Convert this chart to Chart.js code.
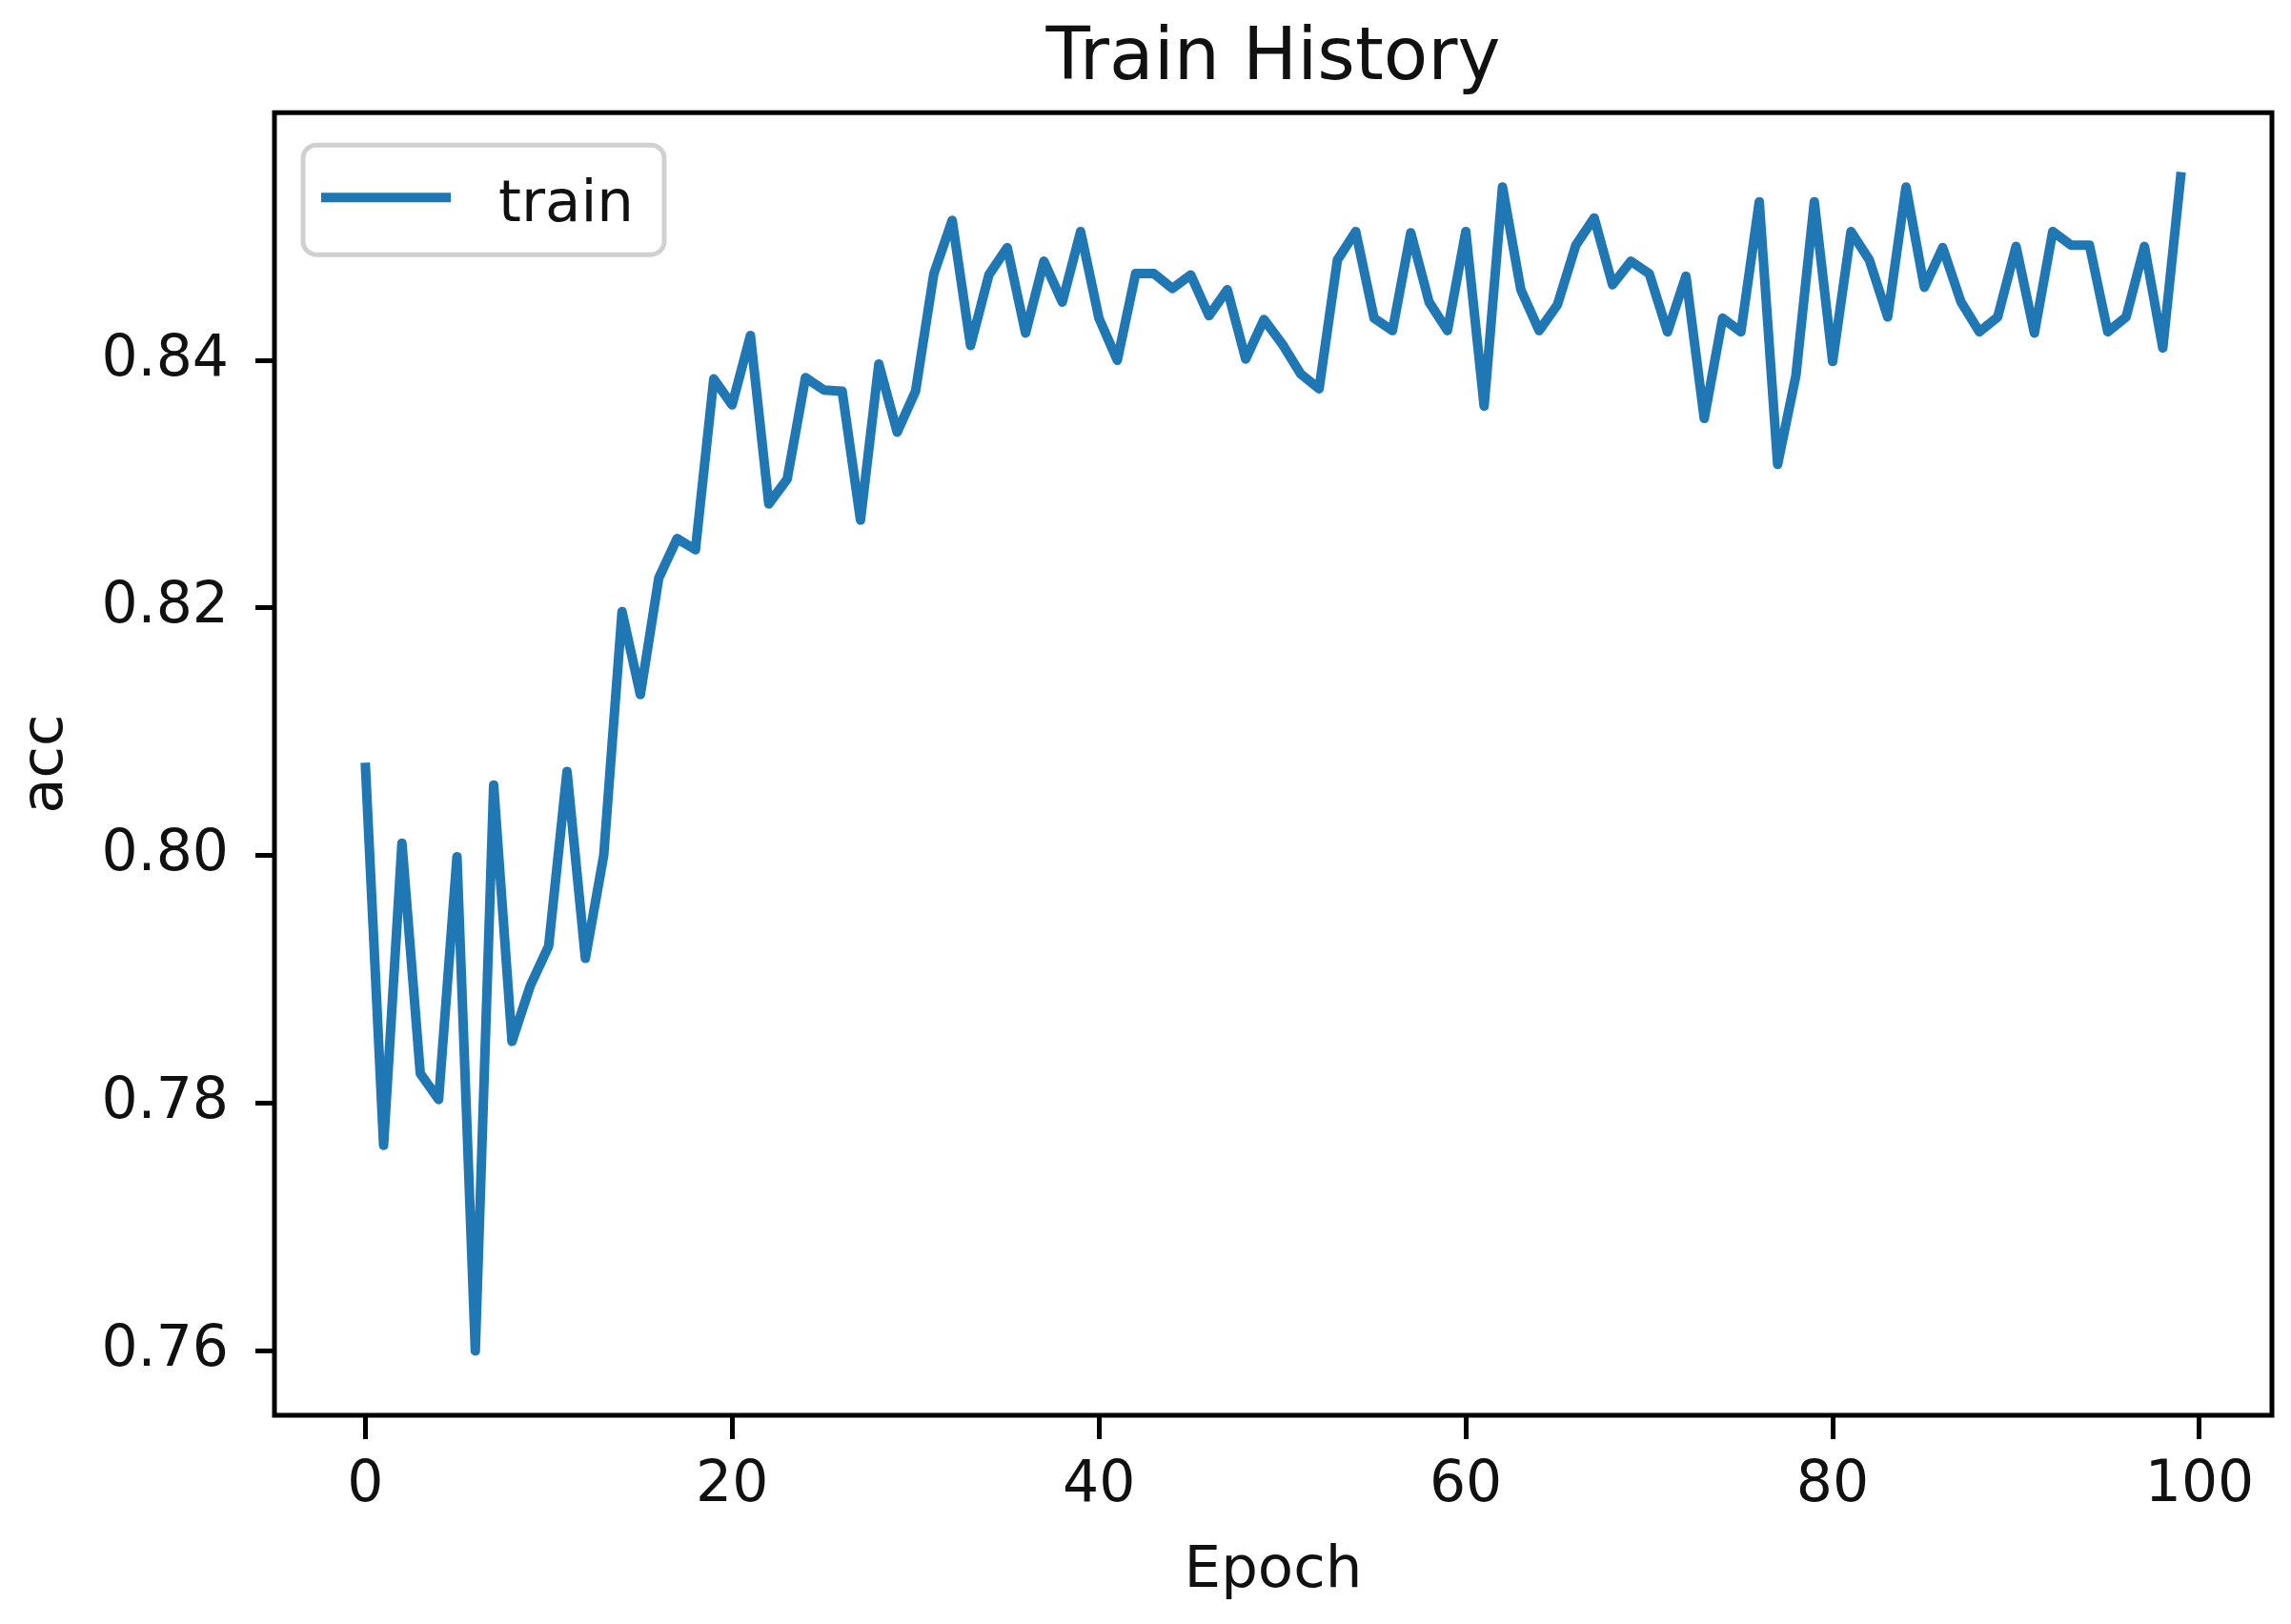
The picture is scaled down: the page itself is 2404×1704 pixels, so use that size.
<!DOCTYPE html>
<html><head><meta charset="utf-8">
<script src="https://cdn.jsdelivr.net/npm/chart.js@4.4.1/dist/chart.umd.min.js"></script>
<style>html,body{margin:0;padding:0;background:#fff;overflow:hidden}canvas{display:block}</style>
</head><body>
<canvas id="c" width="2404" height="1704"></canvas>
<script>
const titleText = 'Train History';
const xLabel = 'Epoch';
const yLabel = 'acc';
const seriesName = 'train';
const epochs = [0,1,2,3,4,5,6,7,8,9,10,11,12,13,14,15,16,17,18,19,20,21,22,23,24,25,26,27,28,29,30,31,32,33,34,35,36,37,38,39,40,41,42,43,44,45,46,47,48,49,50,51,52,53,54,55,56,57,58,59,60,61,62,63,64,65,66,67,68,69,70,71,72,73,74,75,76,77,78,79,80,81,82,83,84,85,86,87,88,89,90,91,92,93,94,95,96,97,98,99];
const acc = [
  0.8075,0.7766,0.8010,0.7824,0.7803,0.7999,0.7600,0.8057,0.7850,0.7895,
  0.7927,0.8068,0.7917,0.8000,0.8197,0.8130,0.8224,0.8256,0.8247,0.8385,
  0.8364,0.8420,0.8284,0.8304,0.8386,0.8376,0.8375,0.8271,0.8397,0.8342,
  0.8375,0.8470,0.8513,0.8412,0.8469,0.8491,0.8422,0.8480,0.8447,0.8504,
  0.8434,0.8400,0.8470,0.8470,0.8458,0.8469,0.8436,0.8457,0.8401,0.8433,
  0.8413,0.8389,0.8377,0.8481,0.8504,0.8434,0.8424,0.8503,0.8447,0.8424,
  0.8504,0.8363,0.8540,0.8457,0.8424,0.8445,0.8493,0.8515,0.8461,0.8480,
  0.8470,0.8423,0.8468,0.8353,0.8434,0.8423,0.8528,0.8316,0.8388,0.8528,
  0.8399,0.8504,0.8481,0.8435,0.8540,0.8459,0.8491,0.8447,0.8423,0.8435,
  0.8492,0.8422,0.8504,0.8493,0.8493,0.8423,0.8435,0.8492,0.8410,0.8552
];
const xTicks = [0,20,40,60,80,100];
const yTicks = [0.76,0.78,0.80,0.82,0.84];

const FAMILY = "'DejaVu Sans', 'Liberation Sans', sans-serif";
const lineColor = '#1f77b4';

const framePlugin = {
  id: 'frame',
  afterDatasetsDraw(chart) {
    const {ctx, chartArea: a} = chart;
    ctx.save();
    ctx.strokeStyle = '#000';
    ctx.lineWidth = 5;
    ctx.strokeRect(a.left, a.top, a.right - a.left, a.bottom - a.top);
    ctx.restore();
  }
};

const legendPlugin = {
  id: 'mplLegend',
  afterDraw(chart) {
    const {ctx, chartArea: a} = chart;
    const ds = chart.data.datasets[0];
    const bx = a.left + 30, by = a.top + 34, bw = 379, bh = 115, r = 14;
    ctx.save();
    ctx.beginPath();
    ctx.moveTo(bx + r, by);
    ctx.arcTo(bx + bw, by, bx + bw, by + bh, r);
    ctx.arcTo(bx + bw, by + bh, bx, by + bh, r);
    ctx.arcTo(bx, by + bh, bx, by, r);
    ctx.arcTo(bx, by, bx + bw, by, r);
    ctx.closePath();
    ctx.fillStyle = 'rgba(255,255,255,0.8)';
    ctx.fill();
    ctx.strokeStyle = '#d0d0d0';
    ctx.lineWidth = 5;
    ctx.stroke();
    ctx.beginPath();
    ctx.moveTo(bx + 19, by + 55);
    ctx.lineTo(bx + 155, by + 55);
    ctx.strokeStyle = ds.borderColor;
    ctx.lineWidth = ds.borderWidth;
    ctx.stroke();
    ctx.fillStyle = '#111';
    ctx.font = '61px ' + FAMILY;
    ctx.textAlign = 'left';
    ctx.textBaseline = 'alphabetic';
    ctx.fillText(ds.label, bx + 205, by + 80);
    ctx.restore();
  }
};

new Chart(document.getElementById('c').getContext('2d'), {
  type: 'line',
  data: {
    datasets: [{
      label: seriesName,
      data: epochs.map((e, i) => ({x: e, y: acc[i]})),
      borderColor: lineColor,
      backgroundColor: lineColor,
      borderWidth: 10,
      pointRadius: 0,
      tension: 0,
      fill: false,
      borderJoinStyle: 'round'
    }]
  },
  options: {
    responsive: false,
    animation: false,
    devicePixelRatio: 1,
    layout: {padding: {left: 0, right: 20, top: 0, bottom: 0}},
    plugins: {
      legend: {display: false},
      tooltip: {enabled: false},
      title: {
        display: true, text: titleText, color: '#111', fullSize: false,
        font: {family: FAMILY, size: 76, weight: 'normal'},
        padding: {top: 18, bottom: 9}
      }
    },
    scales: {
      x: {
        type: 'linear', position: 'bottom', min: -4.95, max: 103.95,
        afterFit: s => { s.height = 219; },
        afterBuildTicks: s => { s.ticks = xTicks.map(v => ({value: v})); },
        grid: {display: true, drawOnChartArea: false, drawTicks: true, tickLength: 25, tickWidth: 5, tickColor: '#000', color: '#000'},
        border: {display: false},
        ticks: {color: '#111', font: {family: FAMILY, size: 60}, padding: 13, maxRotation: 0, autoSkip: false, callback: v => String(v)},
        title: {display: true, text: xLabel, color: '#111', font: {family: FAMILY, size: 61}, padding: {top: 0, bottom: 18}}
      },
      y: {
        type: 'linear', position: 'left', min: 0.7548, max: 0.8600,
        afterFit: s => { s.width = 288; },
        afterBuildTicks: s => { s.ticks = yTicks.map(v => ({value: v})); },
        grid: {display: true, drawOnChartArea: false, drawTicks: true, tickLength: 20, tickWidth: 5, tickColor: '#000', color: '#000'},
        border: {display: false},
        ticks: {color: '#111', font: {family: FAMILY, size: 60}, padding: 28, autoSkip: false, callback: v => Number(v).toFixed(2)},
        title: {display: true, text: yLabel, color: '#111', font: {family: FAMILY, size: 61}, padding: {top: 13, bottom: 0}}
      }
    }
  },
  plugins: [framePlugin, legendPlugin]
});
</script>
</body></html>
